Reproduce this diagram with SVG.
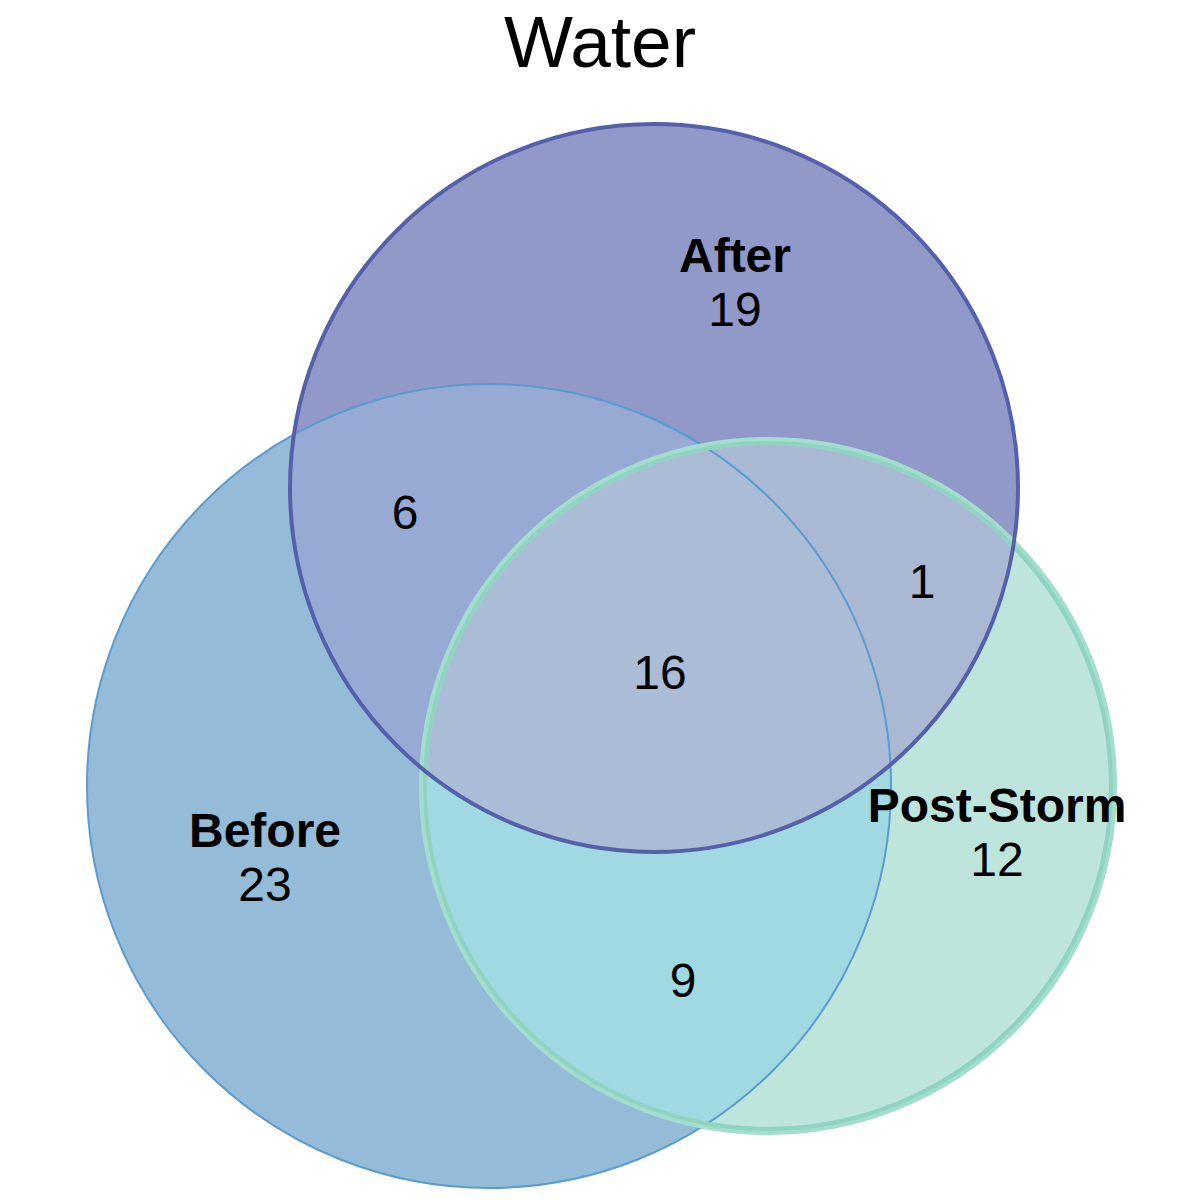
<svg xmlns="http://www.w3.org/2000/svg" width="1200" height="1200" viewBox="0 0 1200 1200">
  <style>
    .lbl { font-family: "Liberation Sans", Arial, sans-serif; font-size: 48px; font-weight: bold; fill: #000; text-anchor: middle; }
    .num { font-family: "Liberation Sans", Arial, sans-serif; font-size: 48px; fill: #000; text-anchor: middle; }
    .title { font-family: "Liberation Sans", Arial, sans-serif; font-size: 73px; fill: #000; text-anchor: middle; }
    .edge { fill: none; }
  </style>
  <defs>
    <clipPath id="clipBefore"><circle cx="489" cy="786" r="402"/></clipPath>
    <clipPath id="clipAfter"><circle cx="654" cy="488" r="364"/></clipPath>
    <clipPath id="clipPost"><circle cx="768" cy="786" r="344"/></clipPath>
  </defs>
  <rect x="0" y="0" width="1200" height="1200" fill="#ffffff"/>
  <text class="title" x="600" y="67">Water</text>

  <g id="regions">
    <circle cx="489" cy="786" r="402" fill="#94bcd9"/>
    <circle cx="768" cy="786" r="344" fill="#bde5dc"/>
    <circle cx="654" cy="488" r="364" fill="#9199c8"/>
    <circle cx="654" cy="488" r="364" fill="#97aad3" clip-path="url(#clipBefore)"/>
    <circle cx="768" cy="786" r="344" fill="#a9b9d4" clip-path="url(#clipAfter)"/>
    <circle cx="768" cy="786" r="344" fill="#a0d9e2" clip-path="url(#clipBefore)"/>
    <g clip-path="url(#clipAfter)">
      <circle cx="768" cy="786" r="344" fill="#aabcd6" clip-path="url(#clipBefore)"/>
    </g>
  </g>

  <g id="node-before">
    <circle class="edge" cx="489" cy="786" r="402" stroke="#5b9bd0" stroke-width="2"/>
    <text class="lbl" x="265" y="847">Before</text>
    <text class="num" x="265" y="901">23</text>
  </g>
  <g id="node-post-storm">
    <circle class="edge" cx="768" cy="786" r="345" stroke="#a3ddcd" stroke-width="8"/>
    <circle class="edge" cx="768" cy="786" r="343" stroke="#8fd4c1" stroke-width="4"/>
    <text class="lbl" x="997" y="822">Post-Storm</text>
    <text class="num" x="997" y="876">12</text>
  </g>
  <g id="node-after">
    <circle class="edge" cx="654" cy="488" r="364" stroke="#5560aa" stroke-width="4"/>
    <text class="lbl" x="735" y="272">After</text>
    <text class="num" x="735" y="326">19</text>
  </g>

  <g id="overlap-counts">
    <text class="num" x="405" y="529">6</text>
    <text class="num" x="922" y="598">1</text>
    <text class="num" x="660" y="689">16</text>
    <text class="num" x="683" y="997">9</text>
  </g>
</svg>
